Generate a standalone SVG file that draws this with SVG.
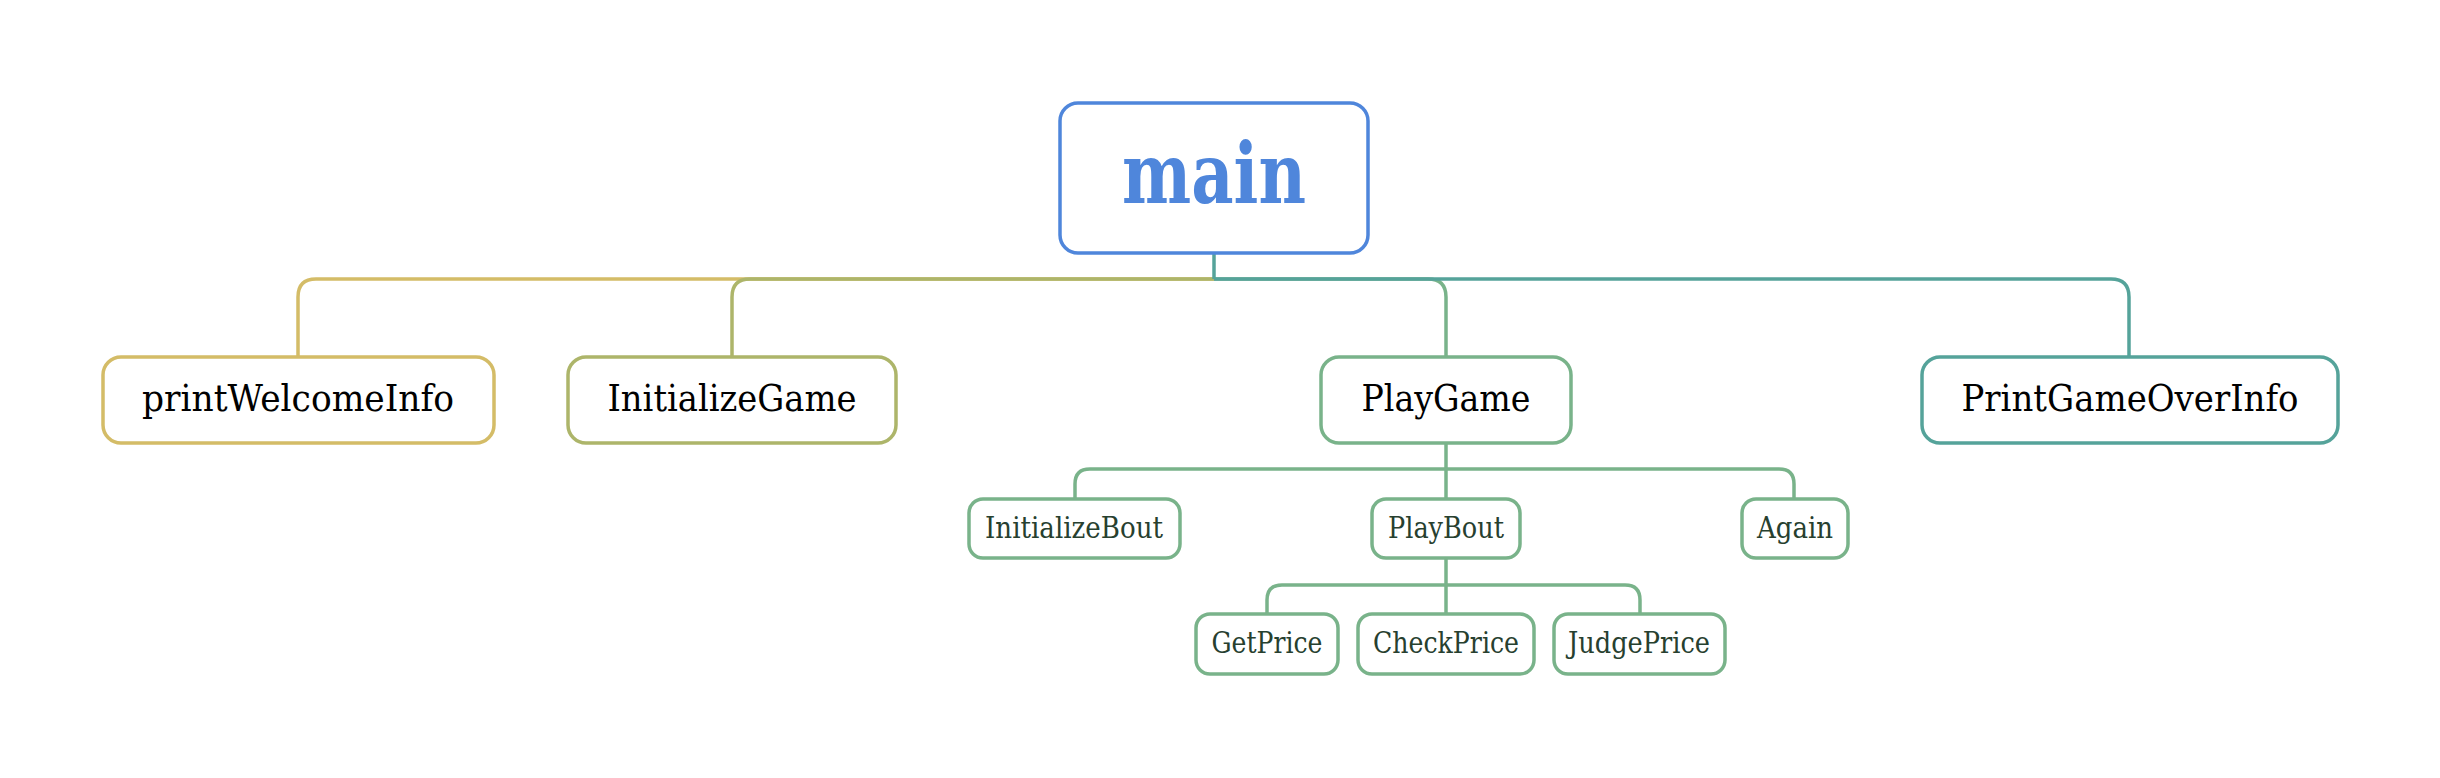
<svg xmlns="http://www.w3.org/2000/svg" width="2440" height="778" viewBox="0 0 2440 778">
<style>
  .box { fill: #ffffff; stroke-width: 3.5; }
  .conn { fill: none; stroke-width: 3.5; stroke-linecap: butt; }
  .t1 { font-family: "DejaVu Serif", "Liberation Serif", serif; font-size: 37px; fill: #000000; text-anchor: middle; }
  .t2 { font-family: "DejaVu Serif", "Liberation Serif", serif; font-size: 30px; fill: #27402f; text-anchor: middle; }
  .tm { font-family: "DejaVu Serif", "Liberation Serif", serif; font-size: 84px; font-weight: bold; fill: #4f86db; text-anchor: middle; }
  .yel { stroke: #d4bc67; }
  .oli { stroke: #adb56a; }
  .grn { stroke: #79b38a; }
  .tea { stroke: #55a39a; }
  .blu { stroke: #4f86db; }
</style>
<rect width="2440" height="778" fill="#ffffff"/>
<g id="connectors">
  <path class="conn yel" d="M1214 279 H316 Q298 279 298 297 V357"/>
  <path class="conn oli" d="M1214 279 H750 Q732 279 732 297 V357"/>
  <path class="conn grn" d="M1214 279 H1428 Q1446 279 1446 297 V357"/>
  <path class="conn tea" d="M1214 279 H2111 Q2129 279 2129 297 V357"/>
  <path class="conn tea" d="M1214 253 V279"/>
  <path class="conn grn" d="M1446 443 V499"/>
  <path class="conn grn" d="M1446 469 H1090 Q1075 469 1075 484 V499"/>
  <path class="conn grn" d="M1446 469 H1779 Q1794 469 1794 484 V499"/>
  <path class="conn grn" d="M1446 558 V614"/>
  <path class="conn grn" d="M1446 585 H1282 Q1267 585 1267 600 V614"/>
  <path class="conn grn" d="M1446 585 H1625 Q1640 585 1640 600 V614"/>
</g>
<g id="main">
  <rect class="box blu" x="1060" y="103" width="308" height="150" rx="18"/>
  <text class="tm" x="1214" y="203" textLength="184" lengthAdjust="spacingAndGlyphs">main</text>
</g>
<g id="printWelcomeInfo">
  <rect class="box yel" x="103" y="357" width="391" height="86" rx="18"/>
  <text class="t1" x="298" y="411" textLength="312" lengthAdjust="spacingAndGlyphs">printWelcomeInfo</text>
</g>
<g id="InitializeGame">
  <rect class="box oli" x="568" y="357" width="328" height="86" rx="18"/>
  <text class="t1" x="732" y="411" textLength="249" lengthAdjust="spacingAndGlyphs">InitializeGame</text>
</g>
<g id="PlayGame">
  <rect class="box grn" x="1321" y="357" width="250" height="86" rx="18"/>
  <text class="t1" x="1446" y="411" textLength="169" lengthAdjust="spacingAndGlyphs">PlayGame</text>
</g>
<g id="PrintGameOverInfo">
  <rect class="box tea" x="1922" y="357" width="416" height="86" rx="18"/>
  <text class="t1" x="2130" y="411" textLength="337" lengthAdjust="spacingAndGlyphs">PrintGameOverInfo</text>
</g>
<g id="InitializeBout">
  <rect class="box grn" x="969" y="499" width="211" height="59" rx="14"/>
  <text class="t2" x="1074" y="538" textLength="178" lengthAdjust="spacingAndGlyphs">InitializeBout</text>
</g>
<g id="PlayBout">
  <rect class="box grn" x="1372" y="499" width="148" height="59" rx="14"/>
  <text class="t2" x="1446" y="538" textLength="116" lengthAdjust="spacingAndGlyphs">PlayBout</text>
</g>
<g id="Again">
  <rect class="box grn" x="1742" y="499" width="106" height="59" rx="14"/>
  <text class="t2" x="1795" y="538" textLength="76" lengthAdjust="spacingAndGlyphs">Again</text>
</g>
<g id="GetPrice">
  <rect class="box grn" x="1196" y="614" width="142" height="60" rx="14"/>
  <text class="t2" x="1267" y="653" textLength="111" lengthAdjust="spacingAndGlyphs">GetPrice</text>
</g>
<g id="CheckPrice">
  <rect class="box grn" x="1358" y="614" width="176" height="60" rx="14"/>
  <text class="t2" x="1446" y="653" textLength="146" lengthAdjust="spacingAndGlyphs">CheckPrice</text>
</g>
<g id="JudgePrice">
  <rect class="box grn" x="1554" y="614" width="171" height="60" rx="14"/>
  <text class="t2" x="1639" y="653" textLength="142" lengthAdjust="spacingAndGlyphs">JudgePrice</text>
</g>
</svg>
